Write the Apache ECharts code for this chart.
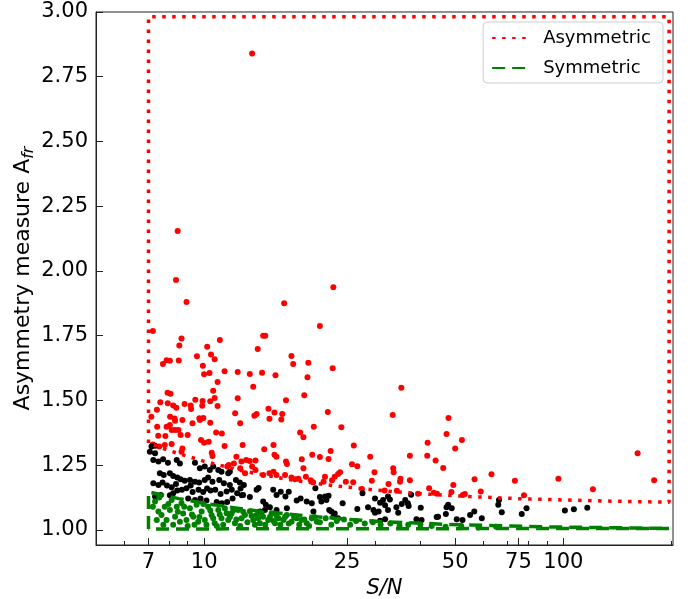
<!DOCTYPE html>
<html><head><meta charset="utf-8">
<script src="https://cdn.jsdelivr.net/npm/echarts@6/dist/echarts.min.js"></script>
<style>html,body{margin:0;padding:0;background:#fff}#c{width:692px;height:599px}</style>
</head><body><div id="c"></div>
<script>
const xTickLabels = [7, 10, 25, 50, 75, 100];
const xMinorTicks = [6, 8, 9, 20, 30, 40, 60, 70, 80, 90, 200];
const yTickLabels = [1.00, 1.25, 1.50, 1.75, 2.00, 2.25, 2.50, 2.75, 3.00];

const asymmetricRegion = [[7,1.336],[7,2.982],[197,2.982],[197,1.107],[140,1.111],[100,1.116],[75,1.121],[55,1.129],[40,1.140],[30,1.154],[22,1.174],[17,1.196],[13,1.226],[10,1.265],[8,1.306],[7,1.336]];
const symmetricRegion = [[7,1.004],[7,1.147],[8.5,1.121],[10,1.103],[13.4,1.077],[20,1.052],[25.3,1.041],[31.5,1.032],[47,1.022],[89,1.012],[197,1.006],[197,1.004],[7,1.004]];

const asymmetricPoints = [
[13.6,2.840],[8.44,2.154],[8.35,1.965],[22.9,1.937],
[8.93,1.880],[16.7,1.875],[21.0,1.788],[7.2,1.768],
[14.6,1.750],[14.8,1.750],[8.65,1.739],[11.06,1.734],[8.53,1.712],[10.2,1.707],[14.1,1.699],[10.45,1.678],[9.55,1.671],[17.5,1.672],[10.7,1.659],[7.86,1.655],[8.03,1.653],[8.5,1.654],[7.68,1.641],[17.7,1.641],[19.5,1.646],[9.92,1.634],[11.4,1.613],[10.35,1.606],[10.0,1.601],[12.4,1.610],[13.4,1.602],[14.5,1.607],[15.8,1.597],[19.4,1.590],[10.9,1.571],[13.7,1.553],[10.6,1.538],[7.91,1.530],[8.06,1.526],[19.0,1.520],[10.7,1.510],[12.4,1.509],[9.45,1.503],[7.55,1.493],[7.92,1.489],[9.9,1.498],[9.88,1.480],[10.4,1.497],[16.9,1.501],[8.2,1.481],[8.37,1.472],[8.82,1.486],[9.17,1.481],[9.2,1.467],[10.9,1.479],[7.39,1.464],[12.2,1.451],[13.8,1.441],[14.0,1.448],[15.1,1.468],[15.7,1.454],[16.5,1.448],[7.13,1.437],[8.04,1.437],[8.27,1.430],[9.7,1.431],[9.95,1.432],[15.2,1.429],[16.4,1.427],
[22.8,1.624],[35.4,1.549],[22.1,1.456],[33.5,1.444],[47.9,1.432],
[47.3,1.371],[41.9,1.337],[52.2,1.347],[50.0,1.315],[37.4,1.287],[41.8,1.287],[44.1,1.268],[46.3,1.239],[33.6,1.238],[33.7,1.223],
[161,1.296],[179,1.192],[96.9,1.198],[120.9,1.157],[73.3,1.190],[63.1,1.215],[56.6,1.196],[58.9,1.149],[77.7,1.134],[49.4,1.174],[48.8,1.147],[42.3,1.161],[43.6,1.144],[44.5,1.140],[52.5,1.135],[35.2,1.198],[35.1,1.186],[32.6,1.178],[37.4,1.192],[34.4,1.151],[31.8,1.152],[39.4,1.140],[53.2,1.139],
[24.1,1.397],[26.1,1.326],[22.5,1.305],[22.2,1.274],[21.0,1.282],[29.0,1.283],[25.8,1.254],[26.7,1.246],[29.8,1.223],[23.9,1.223],[23.6,1.216],[23.1,1.206],[22.7,1.192],[21.7,1.206],[21.5,1.186],[24.8,1.186],[26.0,1.184],[29.3,1.190],[27.5,1.158],
[8.3,1.422],[8.7,1.425],[9.28,1.412],[9.73,1.425],[10.4,1.414],[12.6,1.412],[20.2,1.399],[7.4,1.399],[7.86,1.399],[8.03,1.405],[8.12,1.386],[8.3,1.386],[8.48,1.386],[8.6,1.367],[9.0,1.367],[10.8,1.376],[11.2,1.373],[18.5,1.376],[18.9,1.358],[7.45,1.364],[7.8,1.363],[9.8,1.347],[10.0,1.337],[10.3,1.341],[11.4,1.324],[12.8,1.328],[7.2,1.330],[7.5,1.322],[7.77,1.328],[8.12,1.332],[8.65,1.302],[8.7,1.315],[10.5,1.298],[10.55,1.286],[15.6,1.328],[14.7,1.312],[15.7,1.290],[15.9,1.283],[20.0,1.290],[16.9,1.264],[17.0,1.255],[18.7,1.273],[13.1,1.270],[13.4,1.266],[13.9,1.268],[12.7,1.264],[12.3,1.283],[12.1,1.257],[11.6,1.245],[11.7,1.251],[12.6,1.238],[13.6,1.245],[13.9,1.232],[13.0,1.219],[14.6,1.212],[15.2,1.219],[15.6,1.225],[15.9,1.212],[16.8,1.212],[17.5,1.203],[17.9,1.196],[18.3,1.198],[19.2,1.206],[19.8,1.192],[20.1,1.184],[18.9,1.238]
];

const intermediatePoints = [
[7.3,1.325],[7.14,1.322],[7.06,1.302],[7.30,1.296],[7.22,1.270],[7.46,1.264],[7.69,1.273],[7.93,1.260],[8.39,1.270],[8.56,1.257],[9.43,1.260],[9.73,1.238],[10.04,1.245],[10.37,1.232],[10.6,1.245],[10.95,1.232],[11.18,1.225],[11.67,1.219],[11.79,1.225],
[7.53,1.219],[7.72,1.212],[8.03,1.219],[8.20,1.208],[8.42,1.203],[8.6,1.196],[8.83,1.190],[9.13,1.193],[9.43,1.186],[9.69,1.183],[10.04,1.193],[10.26,1.203],[10.55,1.186],[11.02,1.193],[11.35,1.180],[11.79,1.174],[12.26,1.193],[12.57,1.183],[12.9,1.174],
[7.22,1.180],[7.46,1.174],[7.66,1.183],[7.88,1.172],[8.12,1.165],[8.35,1.178],[8.42,1.152],[8.67,1.155],[8.93,1.161],[9.17,1.172],[9.29,1.147],[9.65,1.155],[9.94,1.147],[10.19,1.160],[10.42,1.152],[10.74,1.155],[11.11,1.139],[11.55,1.149],[11.94,1.155],[12.36,1.142],[12.63,1.160],[12.73,1.134],
[7.30,1.129],[7.57,1.135],[8.03,1.134],[8.20,1.142],[9.03,1.122],[9.43,1.116],[9.77,1.122],[10.15,1.114],[10.84,1.108],[11.2,1.103],[11.59,1.108],[12.0,1.122],[12.84,1.135],[13.41,1.127],[14.0,1.155],[14.18,1.162],[14.6,1.110],[14.85,1.097],[15.24,1.088],[15.57,1.155],[15.91,1.135],[16.34,1.148],[16.84,1.129],[17.2,1.148],[18.1,1.114],[18.56,1.122],[19.3,1.110],[19.94,1.103],[20.4,1.161],[20.15,1.071],[15.91,1.077],[17.0,1.084],[14.3,1.071],[14.76,1.077],
[21.0,1.127],[21.7,1.129],[22.2,1.132],[21.2,1.110],[21.9,1.116],[22.3,1.077],[22.6,1.071],[23.1,1.064],[22.9,1.051],[23.6,1.045],[24.3,1.103],[26.7,1.081],[27.6,1.142],[28.6,1.088],[29.6,1.077],[29.9,1.067],[30.6,1.071],[29.9,1.122],[30.9,1.105],[31.5,1.116],[32.5,1.129],[32.9,1.118],[31.9,1.095],[32.5,1.077],[34.3,1.088],[34.7,1.067],[35.5,1.100],[36.3,1.116],[36.9,1.103],[37.1,1.093],[37.7,1.136],[40.1,1.086],[39.0,1.041],[40.3,1.039],[44.8,1.051],[47.8,1.097],[47.3,1.088],[48.9,1.084],[47.1,1.062],[50.5,1.041],[52.4,1.039],[55.0,1.058],[56.5,1.071],[59.3,1.045],[65.9,1.097],[30.9,1.036],[31.9,1.041],
[101,1.075],[107,1.080],[116.6,1.086],[76.6,1.062],[79,1.084],[66.2,1.116],[67.4,1.068],[44.4,1.050]
];

const symmetricPoints = [
[7.30,1.110],[7.46,1.071],[7.38,1.039],[7.61,1.058],[7.77,1.090],[7.86,1.039],[8.03,1.077],[8.12,1.116],[8.30,1.051],[8.39,1.090],[8.56,1.032],[8.65,1.103],[8.74,1.064],[8.93,1.039],[9.13,1.084],[9.33,1.051],[9.53,1.097],[9.63,1.032],[9.84,1.071],[10.04,1.039],[10.26,1.090],[10.49,1.058],[10.70,1.026],[10.95,1.077],[11.18,1.045],[11.42,1.084],[11.67,1.039],[11.92,1.064],[12.18,1.026],[12.44,1.077],[12.71,1.045],[12.99,1.058],[13.41,1.072],[13.7,1.039],[14.0,1.058],[14.3,1.026],[14.6,1.051],[15.08,1.039],[15.41,1.064],[15.75,1.026],[16.1,1.045],[16.62,1.039],[16.98,1.058],[17.52,1.032],[18.1,1.045],[18.67,1.039],[19.3,1.026],[19.94,1.045],[20.6,1.032],
[7.2,1.090],[7.5,1.125],[7.7,1.020],[7.95,1.100],[8.2,1.020],[8.45,1.070],[8.8,1.090],[9.0,1.015],[9.25,1.060],[9.4,1.020],[9.7,1.050],[9.95,1.100],[10.15,1.020],[10.4,1.075],[10.6,1.045],[10.85,1.015],[11.05,1.060],[11.3,1.020],[11.55,1.065],[11.8,1.050],[12.05,1.075],[12.3,1.040],[12.6,1.015],[12.85,1.070],[13.2,1.030],[13.55,1.055],[13.85,1.020],[14.15,1.045],[14.45,1.065],[14.8,1.020],[15.25,1.050],[15.6,1.035],[15.9,1.055],[16.3,1.020],[16.8,1.050],[17.2,1.025],[17.8,1.050],[18.4,1.020],[19.0,1.040],[19.6,1.015],[20.3,1.050],[21,1.030],[21.8,1.045],[22.6,1.020],[23.4,1.035],[24.5,1.040],[25.5,1.020],[26.5,1.035],[28,1.025],[29.5,1.030],[31,1.020],[33,1.025],[35,1.015],[37,1.020],[40,1.020],[43,1.015],[47,1.012],[52,1.015],[58,1.010],[65,1.012]
];

const FONT = 'DejaVu Sans';
const chart = echarts.init(document.getElementById('c'), null, {renderer: 'canvas'});
const axisColor = '#222';
chart.setOption({
  animation: false,
  backgroundColor: '#fff',
  textStyle: {fontFamily: FONT},
  grid: {left: 96, right: 19, top: 12, bottom: 54, containLabel: false, outerBoundsMode: 'none',
    show: true, borderColor: axisColor, borderWidth: 1, backgroundColor: 'transparent'},
  legend: {
    data: ['Asymmetric', 'Symmetric'],
    orient: 'vertical', right: 29, top: 22,
    itemWidth: 34, itemHeight: 14, itemGap: 12,
    padding: [7, 12, 6, 8],
    itemStyle: {opacity: 0},
    backgroundColor: '#fff', borderColor: '#ccc', borderWidth: 1, borderRadius: 4,
    textStyle: {fontSize: 18, color: '#000', fontFamily: FONT, padding: [0, 0, 0, 12]}
  },
  xAxis: [{
    type: 'log', logBase: 10, min: 5, max: 202,
    axisLine: {show: true, lineStyle: {color: axisColor, width: 1}},
    axisTick: {show: true, inside: true, length: 7, customValues: xTickLabels, lineStyle: {color: axisColor}},
    axisLabel: {customValues: xTickLabels, fontSize: 21, color: '#000', margin: 7, fontFamily: FONT},
    splitLine: {show: false}, minorTick: {show: false},
    name: 'S/N', nameLocation: 'middle', nameGap: 28,
    nameTextStyle: {fontStyle: 'italic', fontSize: 21, color: '#000', fontFamily: FONT}
  }, {
    type: 'log', logBase: 10, min: 5, max: 202, position: 'bottom',
    axisLine: {show: false},
    axisTick: {show: true, inside: true, length: 4, customValues: xMinorTicks, lineStyle: {color: axisColor}},
    axisLabel: {show: false}, splitLine: {show: false}
  }],
  yAxis: {
    type: 'value', min: 0.942, max: 3.0,
    axisLine: {show: true, lineStyle: {color: axisColor, width: 1}},
    axisTick: {show: true, inside: true, length: 7, customValues: yTickLabels, lineStyle: {color: axisColor}},
    axisLabel: {customValues: yTickLabels, fontSize: 21, color: '#000', margin: 8, fontFamily: FONT, formatter: v => v.toFixed(2)},
    splitLine: {show: false},
    name: 'Asymmetry measure A{sub|fr}', nameLocation: 'middle', nameGap: 59, nameRotate: 90, nameMoveOverlap: false,
    nameTextStyle: {fontSize: 22, color: '#000', fontFamily: FONT,
      rich: {sub: {fontSize: 16, fontStyle: 'italic', color: '#000', fontFamily: FONT, padding: [12, 0, 0, 0]}}}
  },
  series: [
    {type: 'scatter', name: 'asymPts', data: asymmetricPoints, symbolSize: 6, itemStyle: {color: '#ff0000', opacity: 1}, z: 2},
    {type: 'scatter', name: 'midPts', data: intermediatePoints, symbolSize: 6, itemStyle: {color: '#000', opacity: 1}, z: 2},
    {type: 'scatter', name: 'symPts', data: symmetricPoints, symbolSize: 6, itemStyle: {color: '#008000', opacity: 1}, z: 2},
    {type: 'line', name: 'Asymmetric', data: asymmetricRegion, symbol: 'none', showSymbol: false, z: 3,
      lineStyle: {color: '#ff0000', width: 3.5, type: [3.5, 6.5], cap: 'butt'}, itemStyle: {color: '#ff0000'}},
    {type: 'line', name: 'Symmetric', data: symmetricRegion, symbol: 'none', showSymbol: false, z: 3,
      lineStyle: {color: '#008000', width: 3.5, type: [13, 7], cap: 'butt'}, itemStyle: {color: '#008000'}}
  ]
});
</script></body></html>
